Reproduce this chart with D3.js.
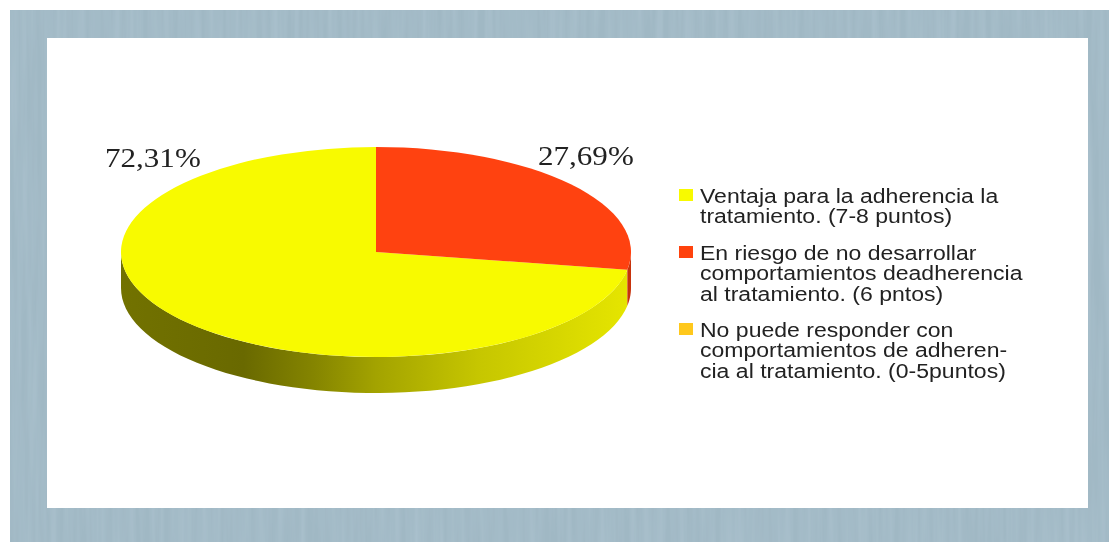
<!DOCTYPE html>
<html lang="es">
    <head>
        <meta charset="utf-8">
        <title>Adherencia al tratamiento</title>
        <script src="https://d3js.org/d3.v7.min.js"></script>
        <style>
            *{
                margin: 0px;
                padding: 0px;
            }
            body{
                background-color: white;
                overflow: hidden;
            }
            svg{
                display: block;
            }
        </style>
    </head>
    <body>
        <div class="visPie"></div>
        <script>
            // datos
            const categories=[
                ["Ventaja para la adherencia la","tratamiento. (7-8 puntos)"],
                ["En riesgo de no desarrollar","comportamientos deadherencia","al tratamiento. (6 pntos)"],
                ["No puede responder con","comportamientos de adheren-","cia al tratamiento. (0-5puntos)"]
            ];
            const values=[72.31,27.69,0];
            const colors=["#f8fa00","#ff4210","#ffc81e"];
            const wallStops=[
                ["0%","#727200"],["24%","#696900"],["38%","#858500"],["50%","#a3a300"],["70%","#c6c600"],["100%","#e6e600"]
            ];

            const width=1109, height=542;
            const cx=376, cy=252, rx=255, ry=105, depth=36;

            const svg=d3.select('.visPie').append('svg')
                .attr('width',width)
                .attr('height',height);

            const defs=svg.append('defs');

            // textura del fondo, rayas verticales
            const tex=defs.append('filter').attr('id','streaks')
                .attr('x',0).attr('y',0).attr('width','100%').attr('height','100%');
            tex.append('feTurbulence')
                .attr('type','fractalNoise')
                .attr('baseFrequency','0.14 0.006')
                .attr('numOctaves',3)
                .attr('seed',7)
                .attr('result','n');
            tex.append('feColorMatrix')
                .attr('in','n')
                .attr('type','matrix')
                .attr('values','0 0 0 0 0.40  0 0 0 0 0.53  0 0 0 0 0.61  1.6 0 0 0 -0.5')
                .attr('result','c');
            tex.append('feMerge').selectAll('feMergeNode')
                .data(['SourceGraphic','c'])
                .enter()
                .append('feMergeNode')
                .attr('in',d=>d);

            // jpeg borroso
            defs.append('filter').attr('id','soft')
                .append('feGaussianBlur')
                .attr('stdDeviation',0.45);

            const grad=defs.append('linearGradient')
                .attr('id','wallYellow')
                .attr('gradientUnits','userSpaceOnUse')
                .attr('x1',cx-rx).attr('x2',cx+rx)
                .attr('y1',0).attr('y2',0);
            grad.selectAll('stop')
                .data(wallStops)
                .enter()
                .append('stop')
                .attr('offset',d=>d[0])
                .attr('stop-color',d=>d[1]);

            /*-------------------------FONDO--------------*/
            svg.append('rect')
                .attr('x',10).attr('y',10)
                .attr('width',width-10).attr('height',height-10)
                .attr('fill','#a0b8c4')
                .attr('filter','url(#streaks)');
            svg.append('rect')
                .attr('x',47).attr('y',38)
                .attr('width',1041).attr('height',470)
                .attr('fill','white');

            /*-------------------------PIE--------------*/
            // LibreOffice: sentido antihorario desde arriba
            const slices=d3.pie().sort(null).startAngle(0).endAngle(-2*Math.PI)(values);

            const edge=d3.line().x(d=>d[0]).y(d=>d[1]);
            const walls=svg.append('g');
            slices.forEach((s,i)=>{
                const lo=Math.max(s.endAngle,-1.5*Math.PI);
                const hi=Math.min(s.startAngle,-0.5*Math.PI);
                if(lo>=hi) return;
                const angles=d3.range(0,61).map(k=>lo+(hi-lo)*k/60);
                const top=angles.map(a=>[cx+rx*Math.sin(a),cy-ry*Math.cos(a)]);
                const bottom=top.map(p=>[p[0],p[1]+depth]).reverse();
                walls.append('path')
                    .attr('d',edge(top.concat(bottom))+'Z')
                    .attr('fill',i==0?'url(#wallYellow)':d3.rgb(colors[i]).darker(0.7));
            });

            const arc=d3.arc().innerRadius(0).outerRadius(rx);
            svg.append('g')
                .attr('transform','translate('+cx+','+cy+') scale(1,'+(ry/rx)+')')
                .selectAll('path')
                .data(slices)
                .enter()
                .append('path')
                .attr('d',arc)
                .attr('fill',(d,i)=>colors[i]);

            /*-------------------------ETIQUETAS--------------*/
            const pct=v=>v.toFixed(2).replace('.',',')+'%';
            const labelPos=[[105,167],[538,165]];
            svg.selectAll('.val')
                .data(values.slice(0,2))
                .enter()
                .append('text')
                .attr('class','val')
                .attr('transform',(d,i)=>'translate('+labelPos[i][0]+','+labelPos[i][1]+') scale(1.13,1)')
                .attr('filter','url(#soft)')
                .style('font-family','"Liberation Serif"')
                .style('font-size','27.5px')
                .style('fill','#222')
                .text(pct);

            /*-------------------------LEYENDA--------------*/
            const legendTop=[203,260,337];
            const legend=svg.selectAll('.item')
                .data(categories)
                .enter()
                .append('g')
                .attr('class','item')
                .attr('transform',(d,i)=>'translate(0,'+legendTop[i]+')');
            legend.append('rect')
                .attr('x',679).attr('y',-14)
                .attr('width',14).attr('height',12)
                .attr('filter','url(#soft)')
                .attr('fill',(d,i)=>colors[i]);
            legend.append('text')
                .attr('transform','translate(700,0) scale(1.175,1)')
                .attr('filter','url(#soft)')
                .style('font-family','"Liberation Sans"')
                .style('font-size','19.6px')
                .style('fill','#222')
                .selectAll('tspan')
                .data(d=>d)
                .enter()
                .append('tspan')
                .attr('x',0)
                .attr('y',(d,i)=>i*20.3)
                .text(d=>d);
        </script>
    </body>
</html>
